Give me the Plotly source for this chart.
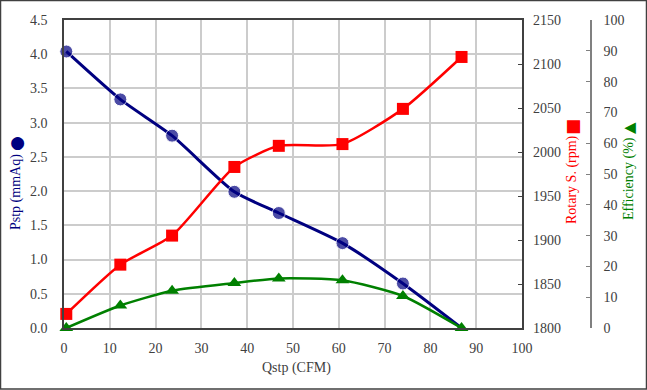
import plotly.graph_objects as go

# ---- data ----
qstp = [0.5, 12.3, 23.6, 37.2, 46.9, 60.8, 74.0, 86.8]
pstp = [4.04, 3.34, 2.81, 1.99, 1.68, 1.24, 0.65, 0.0]
rpm = [1816, 1872, 1905, 1983, 2007, 2009, 2049, 2108]
eff = [0.0, 7.3, 12.1, 14.6, 16.1, 15.5, 10.4, 0.0]
x_ticks = list(range(0, 101, 10))
p_ticks = [i * 0.5 for i in range(10)]
rpm_ticks = list(range(1800, 2151, 50))
eff_ticks = list(range(0, 101, 10))

W, H = 647, 390
L, R_AX3, T, B = 64, 591, 20, 328   # pixel frame
PLOT_R = 522
pw = R_AX3 - L
ph = B - T

def px(x):
    return (x - L) / pw

def py(y):
    return (B - y) / ph

FONT = "Liberation Serif"
TICKC = "#404040"

fig = go.Figure()
fig.add_trace(go.Scatter(
    x=qstp, y=pstp, mode="lines+markers", line=dict(color="#000080", width=3, shape="spline", smoothing=0.6),
    marker=dict(symbol="circle", size=[13] * 7 + [0], color="#000080"), cliponaxis=False, yaxis="y"))
fig.add_trace(go.Scatter(
    x=qstp, y=rpm, mode="lines+markers", line=dict(color="#ff0000", width=2.5, shape="spline", smoothing=0.6),
    marker=dict(symbol="square", size=12, color="#ff0000"), cliponaxis=False, yaxis="y2"))
fig.add_trace(go.Scatter(
    x=qstp, y=eff, mode="lines+markers", line=dict(color="#008000", width=2.5, shape="spline", smoothing=0.6),
    marker=dict(symbol="triangle-up", size=12, color="#008000"), cliponaxis=False, yaxis="y3"))

dom_end = (PLOT_R - L) / pw
axfont = dict(family=FONT, size=14, color=TICKC)
fig.update_layout(
    width=W, height=H, margin=dict(l=L, r=W - R_AX3, t=T, b=H - B, autoexpand=False),
    font=dict(family=FONT, size=14, color=TICKC),
    paper_bgcolor="white", plot_bgcolor="white", showlegend=False,
    xaxis=dict(domain=[0, dom_end], range=[0, 100], tickvals=x_ticks, showgrid=True, automargin=False,
               gridcolor="#cccccc", gridwidth=1.5, showline=True, linecolor="#404040", linewidth=1.5,
               mirror=True, ticks="", tickfont=axfont, ticklabelstandoff=6, zeroline=False),
    yaxis=dict(range=[0, 4.5], tickvals=p_ticks, ticktext=[f"{v:.1f}" for v in p_ticks], automargin=False,
               showgrid=True, gridcolor="#cccccc", gridwidth=1.5, showline=True, linecolor="#404040",
               linewidth=1.5, mirror=True, ticks="", tickfont=axfont, ticklabelstandoff=12, zeroline=False),
    yaxis2=dict(range=[1800, 2150], tickvals=rpm_ticks, overlaying="y", side="right", anchor="x",
                showgrid=False, ticks="inside", ticklen=4, tickcolor="#404040", tickfont=axfont,
                ticklabelstandoff=10, zeroline=False, automargin=False),
    yaxis3=dict(range=[0, 100], tickvals=eff_ticks, overlaying="y", side="right", anchor="free",
                position=1, showgrid=False, showline=True, linecolor="#808080", linewidth=1.5,
                ticks="inside", ticklen=4, tickcolor="#808080", tickfont=axfont,
                ticklabelstandoff=9, zeroline=False, automargin=False),
)

anns = [
    dict(text="Qstp (CFM)", x=px(296), y=py(368), font=dict(family=FONT, size=14, color=TICKC), textangle=0),
    dict(text="Pstp (mmAq)", x=px(16), y=py(192), font=dict(family=FONT, size=14, color="#000080"), textangle=-90),
    dict(text="●", x=px(16), y=py(144), font=dict(family="DejaVu Sans", size=17, color="#000080"), textangle=-90),
    dict(text="Rotary S. (rpm)", x=px(572), y=py(180), font=dict(family=FONT, size=14, color="#ff0000"), textangle=-90),
    dict(text="■", x=px(572), y=py(127), font=dict(family="DejaVu Sans", size=17, color="#ff0000"), textangle=-90),
    dict(text="Efficiency (%)", x=px(629), y=py(179), font=dict(family=FONT, size=14, color="#008000"), textangle=-90),
    dict(text="▲", x=px(629), y=py(128), font=dict(family="DejaVu Sans", size=15, color="#008000"), textangle=-90),
]
for a in anns:
    fig.add_annotation(xref="paper", yref="paper", showarrow=False, xanchor="center", yanchor="middle", **a)

fig.add_shape(type="rect", xref="paper", yref="paper", x0=px(0.5), x1=px(646.5), y0=py(389), y1=py(0.5),
              line=dict(color="#404040", width=1.5), layer="below")

fig.write_html("out.html", config={"displayModeBar": False},
               post_script="document.body.style.margin='0';document.body.style.overflow='hidden';")
